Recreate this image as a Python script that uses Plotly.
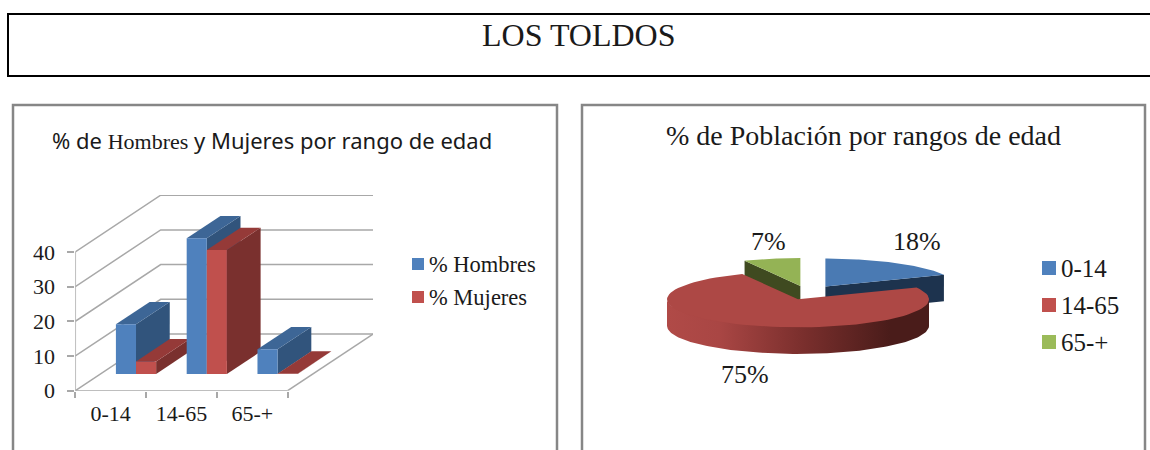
"""Los Toldos: barras 3D y torta 3D hechas con trazas Plotly."""

import numpy as np
import plotly.graph_objects as go

categorias = ["0-14", "14-65", "65-+"]
hombres = [14.3, 39.1, 7.1]
mujeres = [3.6, 35.7, 0.1]
y_ticks = [0, 10, 20, 30, 40]

rangos = ["0-14", "14-65", "65-+"]
poblacion = [18, 75, 7]

W, H = 1150, 450
SERIF = "Liberation Serif"
SANS = "Noto Sans"
INK = "#1a1a1a"
GRID = "#a8a8a8"
FRAME = "#868686"

# proyeccion de las barras: cuanto se corre el fondo, en unidades de los ejes
DX, DY = 1.206, 16.34
BAR_GAP, BAR_W = 0.218, 0.284
Z0, Z1 = 0.295, 0.69

# torta: eje en radios, centro y recorte en pixeles
CX_PX, CY_PX, RX_PX, RY_PX = 798, 299.3, 131, 28
DEPTH = 0.95
EXPLODE = {"0-14": (0.209, 0.454), "14-65": (0, 0), "65-+": (0.018, 0.475)}


def dom_x(a, b):
    return [a / W, b / W]


def dom_y(top, bottom):
    return [(H - bottom) / H, (H - top) / H]


fig = go.Figure()


def poly(xs, ys, color, xa="x", ya="y"):
    fig.add_trace(go.Scatter(
        x=xs, y=ys, xaxis=xa, yaxis=ya, mode="lines", fill="toself",
        fillcolor=color, line=dict(width=0, color=color),
        hoverinfo="skip", showlegend=False,
    ))


def line(xs, ys, color=GRID, width=1.5):
    fig.add_trace(go.Scatter(
        x=xs, y=ys, mode="lines", line=dict(color=color, width=width),
        hoverinfo="skip", showlegend=False,
    ))


# paredes y piso
n_cat = len(categorias)
for v in y_ticks:
    line([0, DX, n_cat + DX], [v, v + DY, v + DY])
line([0, 0], [0, y_ticks[-1]])
line([0, n_cat], [0, 0])
line([n_cat, n_cat + DX], [0, DY])


def bar3d(left, val, front, top, side):
    right = left + BAR_W
    x0, x1 = left + Z0 * DX, right + Z0 * DX
    dx, dy = (Z1 - Z0) * DX, (Z1 - Z0) * DY
    base = Z0 * DY
    poly([x1, x1 + dx, x1 + dx, x1], [base, base + dy, base + dy + val, base + val], side)
    poly([x0, x1, x1 + dx, x0 + dx],
         [base + val, base + val, base + val + dy, base + val + dy], top)
    poly([x0, x1, x1, x0], [base, base, base + val, base + val], front)


for i in range(n_cat):
    bar3d(i + BAR_GAP, hombres[i], "#4f81bd", "#3d6696", "#31547c")
    bar3d(i + BAR_GAP + BAR_W, mujeres[i], "#c0504d", "#953a38", "#7a302e")

# torta: empieza arriba y gira en sentido horario
acum = np.cumsum([0] + poblacion) / sum(poblacion) * 2 * np.pi
arcos = {r: (acum[i], acum[i + 1]) for i, r in enumerate(rangos)}


def slice3d(nombre, top, side):
    t0, t1 = arcos[nombre]
    ox, oy = EXPLODE[nombre]
    t = np.linspace(t0, t1, 80)
    ax, ay = np.sin(t) + ox, np.cos(t) + oy
    # cara del corte que se ve (el borde exterior queda tapado o es corto)
    if nombre == "0-14":
        poly([ox, ax[-1], ax[-1], ox],
             [oy, ay[-1], ay[-1] - DEPTH, oy - DEPTH], side, "x2", "y2")
    if nombre == "65-+":
        poly([ox, ax[0], ax[0], ox],
             [oy, ay[0], ay[0] - DEPTH, oy - DEPTH], side, "x2", "y2")
    poly(np.r_[ox, ax, ox], np.r_[oy, ay, oy], top, "x2", "y2")


slice3d("0-14", "#4a7ab3", "#1d334e")
slice3d("65-+", "#94b355", "#3f4a20")

t_rim = np.linspace(np.pi / 2, 3 * np.pi / 2, 120)
rim_x = np.r_[np.sin(t_rim), np.sin(t_rim[::-1])]
rim_y = np.r_[0.9 * np.cos(t_rim), np.cos(t_rim[::-1]) - DEPTH]
fig.add_trace(go.Scatter(
    x=rim_x, y=rim_y, xaxis="x2", yaxis="y2", mode="lines", fill="toself",
    line=dict(width=0, color="#7d302e"), hoverinfo="skip", showlegend=False,
    fillgradient=dict(type="horizontal", colorscale=[
        [0, "#b04a47"], [0.2, "#a94644"], [0.5, "#7d302e"], [0.85, "#4a1c1a"], [1, "#4a1c1a"],
    ]),
))
slice3d("14-65", "#ad4845", "#7d302e")

shapes = [
    dict(type="rect", xref="paper", yref="paper", x0=8 / W, x1=1160 / W,
         y0=1 - 76 / H, y1=1 - 14 / H, line=dict(color="black", width=2)),
]
# marcos abiertos por abajo
for x0, x1 in [(13, 557), (582, 1145)]:
    shapes.append(dict(
        type="path", xref="paper", yref="paper",
        path=f"M {x0 / W} 0 L {x0 / W} {1 - 105 / H} L {x1 / W} {1 - 105 / H} L {x1 / W} 0",
        line=dict(color=FRAME, width=2.5),
    ))


def label(x, y, text, size, family=SERIF, anchor="center"):
    return dict(x=x / W, y=1 - y / H, xref="paper", yref="paper", text=text,
                showarrow=False, xanchor=anchor, yanchor="middle",
                font=dict(family=family, size=size, color=INK))


annotations = [
    label(579, 35, "LOS TOLDOS", 32),
    label(272, 140, f"% de <span style='font-family:{SERIF}'>Hombres</span> y Mujeres por rango de edad", 22, SANS),
    label(864, 136, "% de Población por rangos de edad", 28),
    label(917, 241, f"{poblacion[0]}%", 26),
    label(745, 374, f"{poblacion[1]}%", 26),
    label(768, 241, f"{poblacion[2]}%", 26),
]


# leyendas: cuadrito y texto muy juntos, mas que lo que permite legend
def legend_items(nombres, colores, x, ys, side, size):
    for nombre, color, y in zip(nombres, colores, ys):
        shapes.append(dict(
            type="rect", xref="paper", yref="paper", x0=x / W, x1=(x + side) / W,
            y0=1 - (y + side / 2) / H, y1=1 - (y - side / 2) / H,
            fillcolor=color, line=dict(width=0),
        ))
        annotations.append(label(x + side + 3, y, nombre, size, anchor="left"))


legend_items(["% Hombres", "% Mujeres"], ["#4f81bd", "#c0504d"], 412, [264, 297], 12, 22.5)
legend_items(rangos, ["#4f81bd", "#c0504d", "#9bbb59"], 1042, [268, 305, 342], 14, 25)

TICK_FONT = dict(family=SERIF, size=22, color=INK)
fig.update_layout(
    width=W, height=H, margin=dict(l=0, r=0, t=0, b=0, autoexpand=False),
    paper_bgcolor="white", plot_bgcolor="white", showlegend=False,
    shapes=shapes, annotations=annotations,
    xaxis=dict(
        domain=dom_x(75.3, 373), range=[0, n_cat + DX], showgrid=False, showline=False,
        zeroline=False, tickmode="array", automargin=False,
        tickvals=[i + 0.5 for i in range(n_cat)], ticktext=categorias,
        ticks="", tickfont=TICK_FONT, ticklabelstandoff=7,
        minor=dict(tickmode="array", tickvals=list(range(n_cat + 1)), ticks="outside",
                   ticklen=6, tickcolor=GRID, tickwidth=1.5),
    ),
    yaxis=dict(
        domain=dom_y(195, 390.7), range=[0, 56.4], showgrid=False, showline=False,
        zeroline=False, tickmode="array", tickvals=y_ticks, ticks="outside", ticklen=7,
        tickcolor=GRID, tickwidth=1.5, tickfont=TICK_FONT, ticklabelstandoff=8, automargin=False,
    ),
    xaxis2=dict(
        domain=dom_x(620, 1030), range=[(620 - CX_PX) / RX_PX, (1030 - CX_PX) / RX_PX],
        visible=False, automargin=False,
    ),
    yaxis2=dict(
        domain=dom_y(215, 380), range=[(CY_PX - 380) / RY_PX, (CY_PX - 215) / RY_PX],
        visible=False, automargin=False,
    ),
)

fig.write_html("out.html", config={"displayModeBar": False},
               post_script="document.body.style.margin='0';")
